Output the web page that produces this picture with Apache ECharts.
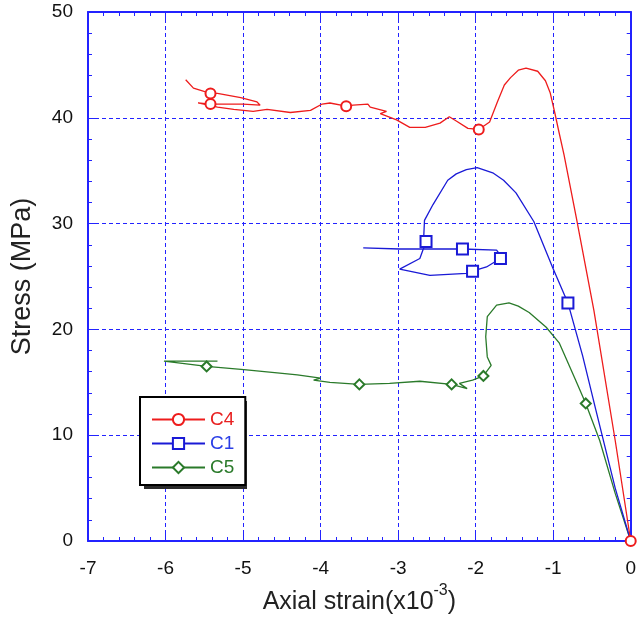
<!DOCTYPE html>
<html>
<head>
<meta charset="utf-8">
<script src="https://cdn.jsdelivr.net/npm/echarts@6/dist/echarts.min.js"></script>
<style>
  html, body { margin: 0; padding: 0; background: #fff; }
  #chart { width: 639px; height: 622px; }
</style>
</head>
<body>
<div id="chart"></div>
<script>
// axis ticks
const xTicks = [-7, -6, -5, -4, -3, -2, -1, 0]
const yTicks = [0, 10, 20, 30, 40, 50]

// C4 (red, circles)
const c4X = [0, -0.2, -0.475, -0.7, -0.86, -0.93, -0.98, -1.04, -1.1, -1.2, -1.35, -1.45, -1.55, -1.63, -1.72, -1.82, -1.96, -2.1, -2.25, -2.34, -2.46, -2.65, -2.85, -3.02, -3.23, -3.15, -3.36, -3.39, -3.58, -3.67, -3.88, -3.98, -4.13, -4.39, -4.69, -4.87, -5.12, -5.33, -5.58, -5.42, -5.0, -4.78, -4.82, -5.03, -5.33, -5.42, -5.64, -5.74]
const c4Y = [0, 9.5, 21.8, 30.5, 36.5, 38.8, 40.5, 42.4, 43.5, 44.4, 44.7, 44.5, 43.8, 43.1, 41.5, 39.6, 38.9, 39.0, 39.7, 40.1, 39.5, 39.1, 39.1, 39.8, 40.4, 40.6, 41.0, 41.3, 41.2, 41.1, 41.4, 41.3, 40.7, 40.5, 40.8, 40.6, 40.8, 41.0, 41.4, 41.3, 41.3, 41.2, 41.5, 41.9, 42.3, 42.3, 42.8, 43.6]
const c4Marks = [0, 16, 29, 39, 45]

// C1 (blue, squares)
const c1X = [0, -0.2, -0.45, -0.62, -0.81, -1.01, -1.25, -1.48, -1.64, -1.78, -1.98, -2.12, -2.25, -2.36, -2.55, -2.66, -2.67, -2.64, -2.72, -2.98, -2.59, -2.12, -2.04, -1.86, -1.66, -1.68, -1.73, -2.17, -2.68, -2.98, -3.45]
const c1Y = [0, 5, 12.4, 17.5, 22.5, 25.9, 30.2, 32.9, 34.1, 34.8, 35.3, 35.1, 34.7, 34.1, 31.8, 30.3, 28.7, 28.3, 26.7, 25.7, 25.1, 25.3, 25.5, 25.9, 26.8, 26.7, 27.5, 27.6, 27.6, 27.6, 27.7]
const c1Marks = [4, 17, 22, 25, 27]

// C5 (green, diamonds)
const c5X = [0, -0.2, -0.4, -0.58, -0.71, -0.92, -1.09, -1.31, -1.45, -1.57, -1.73, -1.85, -1.87, -1.85, -1.80, -1.9, -2.04, -2.21, -2.11, -2.31, -2.72, -3.11, -3.5, -3.88, -4.09, -4.0, -4.3, -4.56, -4.99, -5.47, -6.02, -5.33]
const c5Y = [0, 4.5, 9.5, 13.0, 15.2, 18.7, 20.2, 21.6, 22.2, 22.5, 22.3, 21.2, 19.3, 17.4, 16.6, 15.6, 15.2, 14.9, 14.4, 14.8, 15.1, 14.9, 14.8, 15.0, 15.2, 15.4, 15.7, 15.9, 16.2, 16.5, 17.0, 17.0]
const c5Marks = [3, 15, 19, 22, 29]

const blue = '#2323ff'
const font = 'Liberation Sans, Arial, sans-serif'

function buildData(xs, ys, marks) {
  return xs.map(function(x, i) {
    const item = { value: [x, ys[i]] }
    if (marks.indexOf(i) < 0) {
      item.symbol = 'none'
    }
    return item
  })
}

function lineSeries(name, xs, ys, marks, color, symbol, size, z) {
  return {
    name: name,
    type: 'line',
    data: buildData(xs, ys, marks),
    symbol: symbol,
    symbolSize: size,
    showSymbol: true,
    z: z,
    lineStyle: { color: color, width: 1.3 },
    itemStyle: { color: color, borderColor: color, borderWidth: 1 },
    emphasis: { disabled: true }
  }
}

const chart = echarts.init(document.getElementById('chart'))

const axisLine = { show: true, onZero: false, lineStyle: { color: blue, width: 2 } }
const axisTick = { show: true, inside: true, length: 8, lineStyle: { color: blue, width: 1 } }
const minorTick = { show: true, splitNumber: 5, length: 4, lineStyle: { color: blue, width: 1 } }
const splitLine = { show: true, lineStyle: { color: blue, width: 1, type: [4, 3] } }

chart.setOption({
  animation: false,
  backgroundColor: '#fff',
  grid: { left: 88, right: 7, top: 12, bottom: 81 },
  // drop shadow behind the legend box
  graphic: [{
    type: 'rect',
    left: 144,
    top: 401,
    z: 1,
    shape: { width: 103, height: 88 },
    style: { fill: '#2b2b2b' }
  }],
  legend: {
    left: 140,
    top: 397,
    z: 10,
    orient: 'vertical',
    padding: [13, 11, 8, 11],
    itemWidth: 53,
    itemHeight: 14,
    itemGap: 5,
    backgroundColor: '#fff',
    borderColor: '#000',
    borderWidth: 2,
    borderRadius: 0,
    textStyle: { fontFamily: font, fontSize: 19, lineHeight: 16 },
    data: [
      { name: 'C4', textStyle: { color: '#e82020' } },
      { name: 'C1', textStyle: { color: '#2a3ee6' } },
      { name: 'C5', textStyle: { color: '#2a7a2a' } }
    ]
  },
  xAxis: [
    {
      type: 'value',
      min: xTicks[0],
      max: xTicks[xTicks.length - 1],
      interval: 1,
      name: '{t|Axial strain(x10}{s|-3}{t|)}',
      nameLocation: 'middle',
      nameGap: 36,
      nameTextStyle: {
        rich: {
          t: { fontFamily: font, fontSize: 25, color: '#222', padding: [7, 0, 0, 0] },
          s: { fontFamily: font, fontSize: 16, color: '#222', verticalAlign: 'top' }
        }
      },
      axisLine: axisLine,
      axisTick: axisTick,
      minorTick: minorTick,
      axisLabel: { margin: 18, color: '#111', fontFamily: font, fontSize: 19 },
      splitLine: splitLine
    },
    {
      type: 'value',
      position: 'top',
      min: xTicks[0],
      max: xTicks[xTicks.length - 1],
      interval: 1,
      axisLine: axisLine,
      axisTick: axisTick,
      minorTick: minorTick,
      axisLabel: { show: false },
      splitLine: { show: false }
    }
  ],
  yAxis: [
    {
      type: 'value',
      min: yTicks[0],
      max: yTicks[yTicks.length - 1],
      interval: 10,
      name: 'Stress (MPa)',
      nameLocation: 'middle',
      nameGap: 52,
      nameTextStyle: { fontFamily: font, fontSize: 27, color: '#222' },
      axisLine: axisLine,
      axisTick: axisTick,
      minorTick: minorTick,
      axisLabel: { margin: 15, color: '#111', fontFamily: font, fontSize: 19 },
      splitLine: splitLine
    },
    {
      type: 'value',
      position: 'right',
      min: yTicks[0],
      max: yTicks[yTicks.length - 1],
      interval: 10,
      axisLine: axisLine,
      axisTick: axisTick,
      minorTick: minorTick,
      axisLabel: { show: false },
      splitLine: { show: false }
    }
  ],
  series: [
    lineSeries('C4', c4X, c4Y, c4Marks, '#ee1c1c', 'emptyCircle', 10, 5),
    lineSeries('C1', c1X, c1Y, c1Marks, '#1a1ad6', 'emptyRect', 11, 4),
    lineSeries('C5', c5X, c5Y, c5Marks, '#2a7a2a', 'emptyDiamond', 10, 3)
  ]
})
</script>
</body>
</html>
